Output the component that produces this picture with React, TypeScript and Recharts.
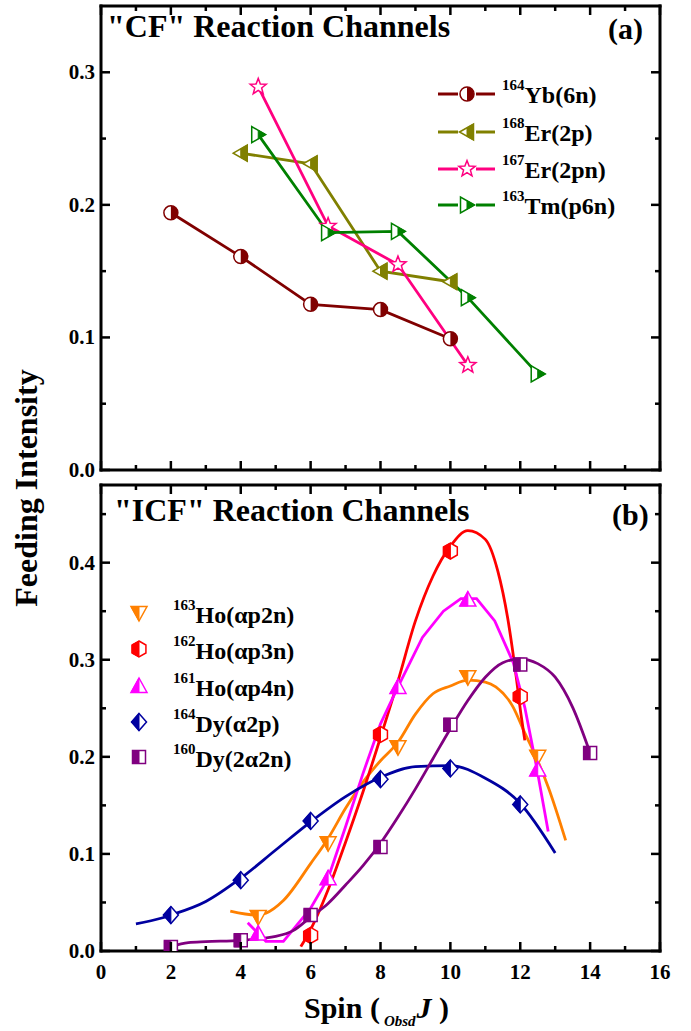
import { ComposedChart, Line, Scatter, XAxis, YAxis } from "recharts";

const FONT = "'Liberation Serif', 'Times New Roman', Times, serif";

// axis ticks (major + minor, minor ones get no label)
const spinTicks = [0, 1, 2, 3, 4, 5, 6, 7, 8, 9, 10, 11, 12, 13, 14, 15, 16];
const feedTicksA = [0, 0.05, 0.1, 0.15, 0.2, 0.25, 0.3];
const feedTicksB = [0, 0.05, 0.1, 0.15, 0.2, 0.25, 0.3, 0.35, 0.4, 0.45];

// (a) "CF" channels
const yb164Spin = [2, 4, 6, 8, 10];
const yb164Feed = [0.194, 0.161, 0.125, 0.121, 0.099];
const er168Spin = [4, 6, 8, 10];
const er168Feed = [0.239, 0.231, 0.15, 0.142];
const er167Spin = [4.5, 6.5, 8.5, 10.5];
const er167Feed = [0.289, 0.184, 0.155, 0.079];
const tm163Spin = [4.5, 6.5, 8.5, 10.5, 12.5];
const tm163Feed = [0.253, 0.179, 0.18, 0.13, 0.0725];

// (b) "ICF" channels - measured points
const ho163Spin = [4.5, 6.5, 8.5, 10.5, 12.5];
const ho163Feed = [0.035, 0.111, 0.21, 0.282, 0.2];
const ho162Spin = [6, 8, 10, 12];
const ho162Feed = [0.016, 0.223, 0.412, 0.262];
const ho161Spin = [4.5, 6.5, 8.5, 10.5, 12.5];
const ho161Feed = [0.018, 0.075, 0.272, 0.362, 0.187];
const dy164Spin = [2, 4, 6, 8, 10, 12];
const dy164Feed = [0.037, 0.073, 0.134, 0.177, 0.188, 0.151];
const dy160Spin = [2, 4, 6, 8, 10, 12, 14];
const dy160Feed = [0.004, 0.011, 0.037, 0.107, 0.233, 0.295, 0.204];

// (b) fitted curves
const ho163FitSpin = [3.7, 4.45, 4.72, 5.22, 6, 6.5, 7, 7.5, 8, 8.5, 9, 9.5, 10, 10.5, 11, 11.3, 11.8, 12.1, 12.5, 12.8, 13.3];
const ho163FitFeed = [0.041, 0.037, 0.039, 0.052, 0.09, 0.116, 0.147, 0.174, 0.196, 0.215, 0.244, 0.265, 0.273, 0.279, 0.277, 0.272, 0.251, 0.227, 0.196, 0.169, 0.114];
const ho162FitSpin = [5.72, 6, 6.5, 7, 7.5, 8, 8.5, 9, 9.5, 10, 10.5, 11, 11.36, 11.64, 11.86, 12.02, 12.13];
const ho162FitFeed = [0.0045, 0.022, 0.063, 0.112, 0.164, 0.22, 0.278, 0.34, 0.386, 0.417, 0.433, 0.424, 0.391, 0.343, 0.289, 0.244, 0.217];
const ho161FitSpin = [4.2, 4.72, 5.22, 6, 6.5, 7, 7.5, 8, 8.5, 9.2, 9.8, 10.3, 10.75, 11.27, 11.8, 12.13, 12.47, 12.8];
const ho161FitFeed = [0.029, 0.01, 0.01, 0.044, 0.075, 0.128, 0.183, 0.234, 0.272, 0.323, 0.35, 0.363, 0.363, 0.34, 0.297, 0.251, 0.189, 0.123];
const dy164FitSpin = [1, 1.74, 2, 3, 4, 5, 6, 7, 8, 9, 10, 11, 12, 13];
const dy164FitFeed = [0.028, 0.034, 0.037, 0.051, 0.075, 0.104, 0.133, 0.159, 0.179, 0.19, 0.191, 0.178, 0.152, 0.101];
const dy160FitSpin = [2, 2.5, 3, 4, 5, 5.5, 6, 6.5, 7, 7.5, 8, 8.5, 9, 9.5, 10, 10.5, 11, 11.5, 12, 12.5, 13, 13.5, 14];
const dy160FitFeed = [0.0045, 0.0086, 0.0096, 0.011, 0.015, 0.021, 0.035, 0.049, 0.068, 0.088, 0.111, 0.138, 0.167, 0.198, 0.229, 0.258, 0.282, 0.297, 0.301, 0.296, 0.282, 0.251, 0.204];

type Pt = { x: number; y: number };
const toPts = (xs: number[], ys: number[]): Pt[] => xs.map((x, i) => ({ x, y: ys[i] }));

type Kind = "circle" | "triLeft" | "triRight" | "star" | "triDown" | "triUp" | "hex" | "diamond" | "square";

const seriesA = [
  { mass: "164", name: "Yb(6n)", color: "#800000", kind: "circle" as Kind, data: toPts(yb164Spin, yb164Feed) },
  { mass: "168", name: "Er(2p)", color: "#808000", kind: "triLeft" as Kind, data: toPts(er168Spin, er168Feed) },
  { mass: "167", name: "Er(2pn)", color: "#FF0080", kind: "star" as Kind, data: toPts(er167Spin, er167Feed) },
  { mass: "163", name: "Tm(p6n)", color: "#008000", kind: "triRight" as Kind, data: toPts(tm163Spin, tm163Feed) },
];

// the p4n fit in the figure is drawn as a polyline, the others are smooth
const seriesB = [
  { mass: "163", name: "Ho(\u03b1p2n)", color: "#FF8000", kind: "triDown" as Kind, curve: "monotone", data: toPts(ho163Spin, ho163Feed), fit: toPts(ho163FitSpin, ho163FitFeed) },
  { mass: "162", name: "Ho(\u03b1p3n)", color: "#FF0000", kind: "hex" as Kind, curve: "monotone", data: toPts(ho162Spin, ho162Feed), fit: toPts(ho162FitSpin, ho162FitFeed) },
  { mass: "161", name: "Ho(\u03b1p4n)", color: "#FF00FF", kind: "triUp" as Kind, curve: "linear", data: toPts(ho161Spin, ho161Feed), fit: toPts(ho161FitSpin, ho161FitFeed) },
  { mass: "164", name: "Dy(\u03b12p)", color: "#0000A0", kind: "diamond" as Kind, curve: "monotone", data: toPts(dy164Spin, dy164Feed), fit: toPts(dy164FitSpin, dy164FitFeed) },
  { mass: "160", name: "Dy(2\u03b12n)", color: "#800080", kind: "square" as Kind, curve: "monotone", data: toPts(dy160Spin, dy160Feed), fit: toPts(dy160FitSpin, dy160FitFeed) },
];

function shapePoints(kind: Kind, cx: number, cy: number): number[][] {
  switch (kind) {
    case "triLeft":
      return [[cx - 7.5, cy], [cx + 6.5, cy - 8], [cx + 6.5, cy + 8]];
    case "triRight":
      return [[cx + 7.5, cy], [cx - 6.5, cy - 8], [cx - 6.5, cy + 8]];
    case "triDown":
      return [[cx - 8, cy - 6.5], [cx + 8, cy - 6.5], [cx, cy + 8]];
    case "triUp":
      return [[cx, cy - 8], [cx + 8, cy + 6.5], [cx - 8, cy + 6.5]];
    case "diamond":
      return [[cx, cy - 8.5], [cx + 7.5, cy], [cx, cy + 8.5], [cx - 7.5, cy]];
    case "square":
      return [[cx - 6.5, cy - 6.5], [cx + 6.5, cy - 6.5], [cx + 6.5, cy + 6.5], [cx - 6.5, cy + 6.5]];
    case "hex": {
      const r = 8;
      return [-90, -30, 30, 90, 150, 210].map((a) => [cx + r * Math.cos((a * Math.PI) / 180), cy + r * Math.sin((a * Math.PI) / 180)]);
    }
    case "star": {
      const out: number[][] = [];
      for (let i = 0; i < 10; i++) {
        const r = i % 2 === 0 ? 8.5 : 3.6;
        const a = ((-90 + i * 36) * Math.PI) / 180;
        out.push([cx + r * Math.cos(a), cy + r * Math.sin(a)]);
      }
      return out;
    }
    default:
      return [];
  }
}

// keep the part of a polygon on one side of the vertical line x = cx
function clipHalf(pts: number[][], cx: number, keepLeft: boolean): number[][] {
  const inside = (p: number[]) => (keepLeft ? p[0] <= cx : p[0] >= cx);
  const out: number[][] = [];
  for (let i = 0; i < pts.length; i++) {
    const a = pts[i];
    const b = pts[(i + 1) % pts.length];
    const ia = inside(a);
    const ib = inside(b);
    if (ia) out.push(a);
    if (ia !== ib) {
      const t = (cx - a[0]) / (b[0] - a[0]);
      out.push([cx, a[1] + t * (b[1] - a[1])]);
    }
  }
  return out;
}

const ptsStr = (pts: number[][]) => pts.map((p) => `${p[0]},${p[1]}`).join(" ");

function Marker({ cx, cy, kind, color, fillSide }: { cx?: number; cy?: number; kind: Kind; color: string; fillSide?: "left" | "right" }) {
  if (cx == null || cy == null || isNaN(cx) || isNaN(cy)) return null;
  if (kind === "circle") {
    const r = 7;
    const sweep = fillSide === "right" ? 1 : 0;
    return (
      <g>
        <circle cx={cx} cy={cy} r={r} fill="#fff" stroke={color} strokeWidth={1.5} />
        <path d={`M${cx},${cy - r} A${r},${r} 0 0 ${sweep} ${cx},${cy + r} Z`} fill={color} />
      </g>
    );
  }
  const pts = shapePoints(kind, cx, cy);
  return (
    <g>
      <polygon points={ptsStr(pts)} fill="#fff" stroke={color} strokeWidth={1.5} />
      {fillSide && <polygon points={ptsStr(clipHalf(pts, cx, fillSide === "left"))} fill={color} stroke={color} strokeWidth={1} />}
    </g>
  );
}

const isMajorSpin = (v: number) => Math.abs(v % 2) < 1e-6;
const isMajorFeed = (v: number) => Math.abs(v * 10 - Math.round(v * 10)) < 1e-6;

function AxisTick(props: any) {
  const { x, y, payload, side, showLabel } = props;
  const v = payload.value as number;
  const major = side === "left" || side === "right" ? isMajorFeed(v) : isMajorSpin(v);
  const len = major ? 9 : 5;
  const sw = 2.5;
  const textStyle = { fontFamily: FONT, fontWeight: 700, fontSize: 21, fill: "#000" };
  if (side === "left") {
    return (
      <g>
        <line x1={x} y1={y} x2={x + len} y2={y} stroke="#000" strokeWidth={sw} />
        {showLabel && major && (
          <text x={x - 6} y={y + 7} textAnchor="end" style={textStyle}>
            {v.toFixed(1)}
          </text>
        )}
      </g>
    );
  }
  if (side === "right") {
    return <line x1={x} y1={y} x2={x - len} y2={y} stroke="#000" strokeWidth={sw} />;
  }
  if (side === "top") {
    return <line x1={x} y1={y} x2={x} y2={y + len} stroke="#000" strokeWidth={sw} />;
  }
  return (
    <g>
      <line x1={x} y1={y} x2={x} y2={y - len} stroke="#000" strokeWidth={sw} />
      {showLabel && major && (
        <text x={x} y={y + 28} textAnchor="middle" style={textStyle}>
          {String(v)}
        </text>
      )}
    </g>
  );
}

const frameLine = { stroke: "#000", strokeWidth: 3, strokeLinecap: "square" as const };

function panelAxes(yTicks: number[], yMax: number, xLabels: boolean, xHeight: number) {
  return [
    <XAxis
      key="xb"
      xAxisId="b"
      dataKey="x"
      type="number"
      domain={[0, 16]}
      ticks={spinTicks}
      interval={0}
      height={xHeight}
      allowDataOverflow
      axisLine={frameLine}
      tickLine={false}
      tickSize={0}
      tickMargin={0}
      tick={(p: any) => <AxisTick {...p} side="bottom" showLabel={xLabels} />}
    />,
    <XAxis
      key="xt"
      xAxisId="t"
      orientation="top"
      dataKey="x"
      type="number"
      domain={[0, 16]}
      ticks={spinTicks}
      interval={0}
      height={1}
      allowDataOverflow
      axisLine={frameLine}
      tickLine={false}
      tickSize={0}
      tickMargin={0}
      tick={(p: any) => <AxisTick {...p} side="top" />}
    />,
    <YAxis
      key="yl"
      yAxisId="l"
      type="number"
      domain={[0, yMax]}
      ticks={yTicks}
      interval={0}
      width={101}
      allowDataOverflow
      axisLine={frameLine}
      tickLine={false}
      tickSize={0}
      tickMargin={0}
      tick={(p: any) => <AxisTick {...p} side="left" showLabel />}
    />,
    <YAxis
      key="yr"
      yAxisId="r"
      orientation="right"
      type="number"
      domain={[0, yMax]}
      ticks={yTicks}
      interval={0}
      width={31}
      allowDataOverflow
      axisLine={frameLine}
      tickLine={false}
      tickSize={0}
      tickMargin={0}
      tick={(p: any) => <AxisTick {...p} side="right" />}
    />,
  ];
}

function TopPanel() {
  return (
    <ComposedChart width={691} height={490} margin={{ top: 5, right: 0, bottom: 0, left: 0 }}>
      {panelAxes(feedTicksA, 0.35, false, 20)}
      {seriesA.map((s) => (
        <Line
          key={s.name}
          xAxisId="b"
          yAxisId="l"
          data={s.data}
          dataKey="y"
          type="linear"
          stroke={s.color}
          strokeWidth={2.8}
          isAnimationActive={false}
          dot={(p: any) => (
            <Marker key={`${s.name}-${p.index}`} cx={p.cx} cy={p.cy} kind={s.kind} color={s.color} fillSide={s.kind === "star" ? undefined : "right"} />
          )}
          activeDot={false}
        />
      ))}
    </ComposedChart>
  );
}

function BottomPanel() {
  return (
    <ComposedChart width={691} height={553} margin={{ top: 6, right: 0, bottom: 0, left: 0 }}>
      {panelAxes(feedTicksB, 0.48, true, 80)}
      {seriesB.map((s) => (
        <Line
          key={`fit-${s.name}`}
          xAxisId="b"
          yAxisId="l"
          data={s.fit}
          dataKey="y"
          type={s.curve as any}
          stroke={s.color}
          strokeWidth={2.8}
          dot={false}
          activeDot={false}
          isAnimationActive={false}
        />
      ))}
      {seriesB.map((s) => (
        <Scatter
          key={`pts-${s.name}`}
          xAxisId="b"
          yAxisId="l"
          data={s.data}
          dataKey="y"
          isAnimationActive={false}
          shape={(p: any) => <Marker cx={p.cx} cy={p.cy} kind={s.kind} color={s.color} fillSide="left" />}
        />
      ))}
    </ComposedChart>
  );
}

function Overlay() {
  const bold = { fontFamily: FONT, fontWeight: 700, fill: "#000" };
  const rowsA = [94, 132, 169, 205];
  const rowsB = [613, 649, 686, 722, 757];
  return (
    <svg width={691} height={1031} style={{ position: "absolute", left: 0, top: 0, pointerEvents: "none" }}>
      <text x={107} y={37} style={{ ...bold, fontSize: 32 }}>"CF" Reaction Channels</text>
      <text x={608} y={39} style={{ ...bold, fontSize: 30 }}>(a)</text>
      <text x={114} y={521} style={{ ...bold, fontSize: 32 }}>"ICF" Reaction Channels</text>
      <text x={612} y={525} style={{ ...bold, fontSize: 30 }}>(b)</text>

      <text transform="translate(37,488) rotate(-90)" textAnchor="middle" style={{ ...bold, fontSize: 32 }}>
        Feeding Intensity
      </text>
      <text x={304} y={1018} style={{ ...bold, fontSize: 30 }}>
        Spin (
        <tspan dx={4} dy={8} style={{ fontSize: 15, fontStyle: "italic" }}>Obsd</tspan>
        <tspan dx={1} dy={-8} style={{ fontStyle: "italic" }}>J</tspan>
        <tspan> )</tspan>
      </text>

      {seriesA.map((s, i) => (
        <g key={s.name}>
          <line x1={438} y1={rowsA[i]} x2={458} y2={rowsA[i]} stroke={s.color} strokeWidth={3} />
          <line x1={476} y1={rowsA[i]} x2={495} y2={rowsA[i]} stroke={s.color} strokeWidth={3} />
          <Marker cx={467} cy={rowsA[i]} kind={s.kind} color={s.color} fillSide={s.kind === "star" ? undefined : "right"} />
          <text x={502} y={rowsA[i] + 9} style={bold}>
            <tspan dy={-13} style={{ fontSize: 15 }}>{s.mass}</tspan>
            <tspan dy={13} style={{ fontSize: 24 }}>{s.name}</tspan>
          </text>
        </g>
      ))}

      {seriesB.map((s, i) => (
        <g key={s.name}>
          <Marker cx={139} cy={rowsB[i]} kind={s.kind} color={s.color} fillSide="left" />
          <text x={173} y={rowsB[i] + 10} style={bold}>
            <tspan dy={-13} style={{ fontSize: 15 }}>{s.mass}</tspan>
            <tspan dy={13} style={{ fontSize: 24 }}>{s.name}</tspan>
          </text>
        </g>
      ))}
    </svg>
  );
}

export default function App() {
  return (
    <div style={{ position: "absolute", left: 0, top: 0, width: 691, height: 1031, background: "#fff" }}>
      <div style={{ position: "absolute", left: 0, top: 0 }}>
        <TopPanel />
      </div>
      <div style={{ position: "absolute", left: 0, top: 478 }}>
        <BottomPanel />
      </div>
      <Overlay />
    </div>
  );
}
